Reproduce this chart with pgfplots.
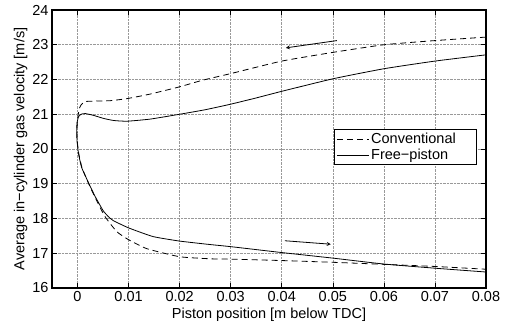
\documentclass[border=0pt]{standalone}
\usepackage{fontspec}
\setmainfont{Liberation Sans}
\usepackage{pgfplots}
\pgfplotsset{compat=1.18}
\begin{document}
\begin{tikzpicture}
\useasboundingbox (-52pt,-39pt) rectangle (457pt,288pt);
\begin{axis}[
  scale only axis,
  width=434pt, height=278pt,
  xmin=-0.005, xmax=0.08, ymin=16, ymax=24,
  scaled x ticks=false, scaled y ticks=false,
  xtick={0,0.01,0.02,0.03,0.04,0.05,0.06,0.07,0.08},
  xticklabels={0,0.01,0.02,0.03,0.04,0.05,0.06,0.07,0.08},
  ytick={16,17,18,19,20,21,22,23,24},
  yticklabels={16,17,18,19,20,21,22,23,24},
  /pgf/number format/assume math mode=true,
  tick label style={font=\fontsize{14.5}{17}\selectfont},
  label style={font=\fontsize{14.5}{17}\selectfont},
  tick align=inside,
  major tick length=5pt,
  tick style={black, line width=0.6pt},
  axis line style={black, line width=1.2pt},
  grid=major,
  major grid style={densely dotted, black!40, line width=0.6pt},
  xlabel={Piston position [m below TDC]},
  ylabel={Average in−cylinder gas velocity [m/s]},
  xlabel style={at={(axis description cs:0.5,0)}, anchor=north, yshift=-19.5pt, inner sep=0pt},
  ylabel style={at={(axis description cs:-0.056,0.5)}, anchor=south, inner sep=0pt},
  legend style={at={(0.9786,0.571)}, anchor=north east, draw=black, line width=0.8pt,
    font=\fontsize{14.5}{16}\selectfont, inner sep=1.5pt, row sep=0pt,
    legend cell align=left},
  legend image code/.code={\draw[#1, line width=0.8pt] (0pt,0pt) -- (32pt,0pt);},
]
\addplot[black, line width=0.8pt, dash pattern=on 6pt off 4pt, smooth, tension=0.3] coordinates {
(0.08,23.22) (0.07,23.12) (0.06,23.00) (0.05,22.78) (0.04,22.53) (0.03,22.17)
(0.0245,21.98) (0.02,21.79) (0.0142,21.58) (0.0097,21.45) (0.0064,21.39)
(0.0038,21.38) (0.0018,21.37) (0.0012,21.34) (0.0007,21.27) (0.0004,21.18)
(0.0002,21.05) (0.0000,20.85) (-0.0001,20.6) (-0.0001,20.3) (0.0002,19.9)
(0.0008,19.5) (0.0016,19.2) (0.0024,18.93) (0.0032,18.68) (0.004,18.44)
(0.0054,18.05) (0.0077,17.62) (0.01,17.39) (0.0136,17.13) (0.02,16.9)
(0.026,16.84) (0.03,16.83) (0.04,16.79) (0.05,16.74) (0.06,16.68) (0.07,16.62) (0.08,16.54)
};
\addlegendentry{Conventional\hspace*{17pt}}
\addplot[black, line width=0.8pt, smooth, tension=0.3] coordinates {
(0.08,22.71) (0.07,22.53) (0.06,22.31) (0.05,22.02) (0.04,21.66) (0.035,21.47)
(0.03,21.29) (0.025,21.13) (0.02,21.0) (0.0142,20.86) (0.0097,20.8) (0.0071,20.82)
(0.0051,20.88) (0.0031,20.97) (0.0015,21.02) (0.0007,21.0) (0.0002,20.93)
(-0.0001,20.75) (-0.00015,20.5) (-0.0001,20.24) (0.0002,19.86) (0.0008,19.47)
(0.0018,19.14) (0.0025,18.92) (0.0035,18.62) (0.005,18.23) (0.006,18.06) (0.007,17.94)
(0.01,17.73) (0.0148,17.48) (0.02,17.35) (0.026,17.25) (0.03,17.19)
(0.04,17.02) (0.05,16.86) (0.06,16.69) (0.07,16.57) (0.08,16.46)
};
\addlegendentry{Free−piston}
\draw[-stealth, line width=0.8pt] (axis cs:0.0508,23.12) -- (axis cs:0.0408,22.91);
\draw[-stealth, line width=0.8pt] (axis cs:0.0406,17.36) -- (axis cs:0.0496,17.26);
\end{axis}
\end{tikzpicture}
\end{document}
